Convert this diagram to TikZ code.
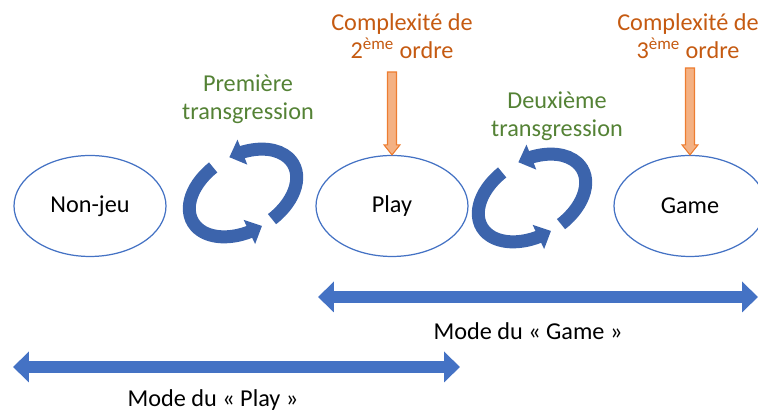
\documentclass[tikz,border=0pt]{standalone}
\usepackage{fontspec}
\setmainfont{Carlito}
\usetikzlibrary{positioning}
\usetikzlibrary{arrows.meta, bending, shapes.geometric, calc}

\definecolor{EdgeBlue}{HTML}{4472C4}
\definecolor{TextOrange}{HTML}{C55A11}
\definecolor{FillOrange}{HTML}{F4B183}
\definecolor{LineOrange}{HTML}{ED7D31}
\definecolor{TextGreen}{HTML}{548235}

\begin{document}
\begin{tikzpicture}
          [
          x=0.02cm, y=0.02cm,
          font=\fontsize{13.8}{15.9}\selectfont,
          Oval/.style={ellipse, draw=EdgeBlue, fill=white, line width=0.7pt, minimum width=3.04cm, minimum height=2.02cm},
          Orange/.style={text=TextOrange, align=center},
          Green/.style={text=TextGreen, align=center},
          Mode/.style={draw=EdgeBlue, line width=0.24cm, {Triangle[width=0.6cm, length=0.32cm]}-{Triangle[width=0.6cm, length=0.32cm]}},
          Down/.style={draw=LineOrange, fill=FillOrange, line width=0.6pt},
          Turn/.style={draw=EdgeBlue!88!black, line width=0.26cm, -{Triangle[width=0.52cm, length=0.28cm]}},
          ]
          \useasboundingbox (0, 0) rectangle (758, 411);
          \clip (0, 0) rectangle (758, 411);

          % Nodes
          \node[Oval] (NonJeu) at(90, 205) {Non-jeu};
          \node[Oval] (Play) at(392, 205) {Play};
          \node[Oval] (Game) at(690, 205) {Game};

          \node[Green] (Trans1) at(248, 312) {Première\\transgression};
          \node[Green] (Trans2) at(557, 295) {Deuxième\\transgression};
          \node[Orange] (Comp2) at(402, 375) {Complexité de\\2\textsuperscript{ème} ordre};
          \node[Orange] (Comp3) at(688, 375) {Complexité de\\3\textsuperscript{ème} ordre};

          \node (ModeGame) at(528, 80) {Mode du « Game »};
          \node (ModePlay) at(213, 11) {Mode du « Play »};

          \coordinate (Top2) at(392, 339);
          \coordinate (Top3) at(690, 343);
          \coordinate (GameL) at(318, 114);
          \coordinate (GameR) at(758, 114);
          \coordinate (PlayL) at(13, 44);
          \coordinate (PlayR) at(460, 44);

          % Lines
          \path [Down] ($(Top2)+(-4.5, 0)$) -- ($(Play.north)+(-4.5, 10)$) -- ($(Play.north)+(-8, 10)$) -- (Play.north)
                 -- ($(Play.north)+(8, 10)$) -- ($(Play.north)+(4.5, 10)$) -- ($(Top2)+(4.5, 0)$) -- cycle;
          \path [Down] ($(Top3)+(-4.5, 0)$) -- ($(Game.north)+(-4.5, 10)$) -- ($(Game.north)+(-8, 10)$) -- (Game.north)
                 -- ($(Game.north)+(8, 10)$) -- ($(Game.north)+(4.5, 10)$) -- ($(Top3)+(4.5, 0)$) -- cycle;

          \path [Mode] (GameL) -- (GameR);
          \path [Mode] (PlayL) -- (PlayR);

          % Turning arrows
          \begin{scope}[shift={(243, 218)}, rotate=30]
            \path [Turn] (-78:58 and 38) arc[start angle=-78, end angle=84, x radius=58, y radius=38];
            \path [Turn] (103:58 and 38) arc[start angle=103, end angle=270, x radius=58, y radius=38];
          \end{scope}
          \begin{scope}[shift={(532, 213)}, rotate=30]
            \path [Turn] (-78:58 and 38) arc[start angle=-78, end angle=84, x radius=58, y radius=38];
            \path [Turn] (103:58 and 38) arc[start angle=103, end angle=270, x radius=58, y radius=38];
          \end{scope}

        \end{tikzpicture}
\end{document}
